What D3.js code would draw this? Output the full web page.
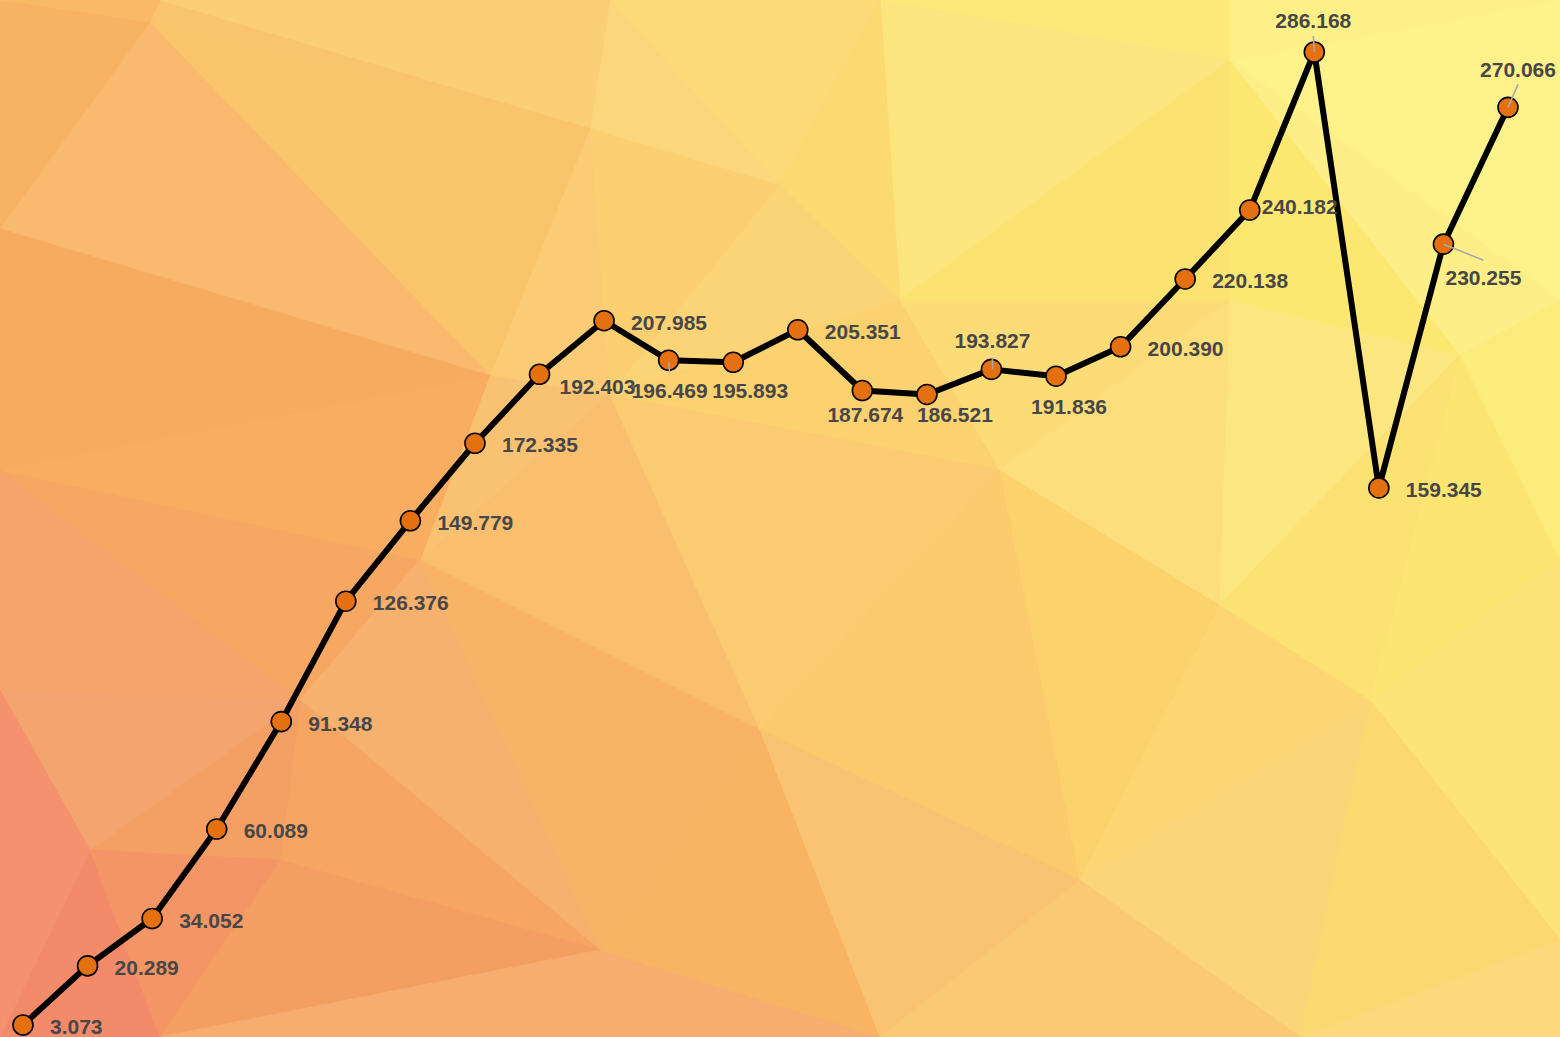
<!DOCTYPE html>
<html>
<head>
<meta charset="utf-8">
<script src="https://cdn.jsdelivr.net/npm/d3@7"></script>
<style>
  html, body { margin: 0; padding: 0; overflow: hidden; background: #fbc86e; }
  svg { display: block; }
</style>
</head>
<body>
<svg id="chart" width="1560" height="1037"></svg>
<script>
// ---- data ----
const categories = ["1","2","3","4","5","6","7","8","9","10","11","12",
                    "13","14","15","16","17","18","19","20","21","22","23","24"];
const values = [3.073, 20.289, 34.052, 60.089, 91.348, 126.376, 149.779, 172.335,
                192.403, 207.985, 196.469, 195.893, 205.351, 187.674, 186.521, 193.827,
                191.836, 200.390, 220.138, 240.182, 286.168, 159.345, 230.255, 270.066];
const yDomain = [0, 300];

// ---- layout ----
const W = 1560, H = 1037;
const svg = d3.select("#chart");

// ---- low-poly background ----
const bgStops = [0, 0.15, 0.33, 0.5, 0.65, 0.8, 1];
const bgColors = ["#f27c68", "#f4a068", "#f8b268", "#fbca6e", "#fddb78", "#fce876", "#fef898"];
const bgScale = d3.scaleLinear().domain(bgStops).range(bgColors)
  .interpolate(d3.interpolateRgb).clamp(true);
function field(x, y) {
  const t = 0.65 * (x / W) + 0.35 * (1 - y / H);
  return bgScale(t);
}
const bgPts = [
  [0,0],[160,0],[610,0],[880,0],[1230,0],[1560,0],
  [150,22],[590,128],[780,185],[1230,300],[1460,355],[1560,300],
  [0,228],[490,375],[610,395],[1220,605],[1560,560],[1230,60],
  [0,690],[90,850],[280,860],[760,730],[1560,940],[1000,470],
  [0,1037],[160,1037],[880,1037],[1560,1037],[1300,1037],[420,560],
  [0,470],[1370,700],[1080,880],[600,950],[300,700],[900,300]
];
const delaunay = d3.Delaunay.from(bgPts);
const tris = delaunay.triangles;
const shades = [0.014, -0.012, 0.006, -0.005, 0.016, -0.014, 0.0, 0.01, -0.008];
const bg = svg.append("g");
for (let i = 0; i < tris.length / 3; i++) {
  const a = bgPts[tris[3*i]], b = bgPts[tris[3*i+1]], c = bgPts[tris[3*i+2]];
  const cx = (a[0]+b[0]+c[0])/3, cy = (a[1]+b[1]+c[1])/3;
  const col = d3.hsl(field(cx, cy));
  col.l = Math.min(0.95, col.l + shades[i % shades.length]);
  bg.append("path")
    .attr("d", `M${a}L${b}L${c}Z`)
    .attr("fill", col.formatHex())
    .attr("stroke", col.formatHex())
    .attr("stroke-width", 0.8);
}

// ---- scales ----
const x = d3.scalePoint().domain(categories).range([23, 1508]);
const y = d3.scaleLinear().domain(yDomain).range([1035.56, 4.46]);

const pts = values.map((v, i) => ({ v, i, x: x(categories[i]), y: y(v) }));

// line
svg.append("path")
  .datum(pts)
  .attr("fill", "none")
  .attr("stroke", "#000")
  .attr("stroke-width", 6)
  .attr("stroke-linejoin", "round")
  .attr("d", d3.line().x(d => d.x).y(d => d.y));

// label placement rules (offset from the point, in px)
const place = {
  8:  { dx: 20, dy: 12, anchor: "start" },
  10: { dx: 1,  dy: 30, anchor: "middle", leader: [[0, 2], [1, 13]] },
  11: { dx: 17, dy: 28, anchor: "middle" },
  13: { dx: 3,  dy: 24, anchor: "middle" },
  14: { dx: 28, dy: 20, anchor: "middle" },
  15: { dx: 1,  dy: -29, anchor: "middle", leader: [[1, 0], [1, -12]] },
  16: { dx: 13, dy: 30, anchor: "middle" },
  19: { dx: 12, dy: -4, anchor: "start" },
  20: { dx: -1, dy: -32, anchor: "middle", leader: [[0, 0], [-1, -16]] },
  22: { dx: 40, dy: 33, anchor: "middle", leader: [[0, 0], [40, 16]] },
  23: { dx: 10, dy: -38, anchor: "middle", leader: [[0, 0], [10, -23]] }
};
const getPlace = i => place[i] || { dx: 27, dy: 1.5, anchor: "start" };

// points
svg.append("g").selectAll("circle")
  .data(pts).join("circle")
  .attr("cx", d => d.x).attr("cy", d => d.y)
  .attr("r", 10)
  .attr("fill", "#e5700f")
  .attr("stroke", "#000")
  .attr("stroke-width", 1.6);

// leader lines
svg.append("g").selectAll("line")
  .data(pts.filter(d => getPlace(d.i).leader)).join("line")
  .attr("x1", d => d.x + getPlace(d.i).leader[0][0])
  .attr("y1", d => d.y + getPlace(d.i).leader[0][1])
  .attr("x2", d => d.x + getPlace(d.i).leader[1][0])
  .attr("y2", d => d.y + getPlace(d.i).leader[1][1])
  .attr("stroke", "#a9a9a9")
  .attr("stroke-width", 1.6);

// labels
svg.append("g").selectAll("text")
  .data(pts).join("text")
  .attr("x", d => d.x + getPlace(d.i).dx)
  .attr("y", d => d.y + getPlace(d.i).dy)
  .attr("text-anchor", d => getPlace(d.i).anchor)
  .attr("dominant-baseline", "central")
  .attr("font-family", "'Liberation Sans', Arial, sans-serif")
  .attr("font-weight", "bold")
  .attr("font-size", 21)
  .attr("fill", "#474747")
  .text(d => d.v.toFixed(3));
</script>
</body>
</html>
